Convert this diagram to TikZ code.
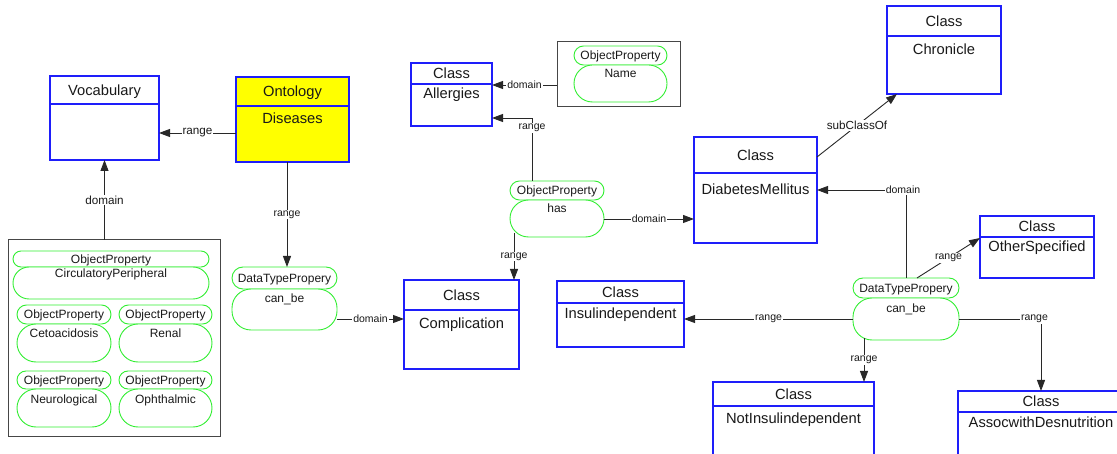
\documentclass[tikz,border=0pt]{standalone}
\usepackage{fontspec}
\setmainfont{Liberation Sans}
\usetikzlibrary{arrows.meta,fit,calc}

\definecolor{clsblue}{RGB}{30,30,250}
\definecolor{propgreen}{RGB}{50,238,50}
\definecolor{ink}{RGB}{25,25,25}
\definecolor{wire}{RGB}{40,40,40}
\definecolor{framegray}{RGB}{70,70,70}
\definecolor{ontyellow}{RGB}{255,255,0}

\newcommand\fsz[1]{\fontsize{#1}{#1}\selectfont}

\tikzset{
  every node/.style={text=ink, inner sep=0pt, outer sep=0pt},
  classbox/.style={draw=clsblue, line width=1.1pt, inner sep=0pt},
  classrule/.style={draw=clsblue, line width=1.1pt},
  classtitle/.style={font=\fsz{14.7}, text height=10.5pt, text depth=0pt, anchor=center},
  classname/.style={font=\fsz{14.7}, anchor=base},
  pillbox/.style={draw=propgreen, line width=0.9pt, fill=white, inner sep=0pt},
  pilltitle/.style={font=\fsz{12}, text height=8.6pt, text depth=0pt, anchor=center},
  pillname/.style={font=\fsz{12}, anchor=base},
  groupframe/.style={draw=framegray, line width=1pt, fill=white, inner sep=0pt},
  conn/.style={draw=wire, line width=0.9pt, -{Triangle[length=11pt,width=8pt]}},
  elab/.style={fill=white, inner sep=1pt, font=\fsz{10.5}},
  elabbig/.style={fill=white, inner sep=1pt, font=\fsz{11.7}},
}

% class box: [fill] name, top-left, bottom-right, header rule y, title, name text, name baseline
\newcommand\umlclass[8][white]{%
  \node[classbox, fill=#1, fit={(#3) (#4)}] (#2) {};
  \draw[classrule] (#2.west |- 0,#5) -- (#2.east |- 0,#5);
  \node[classtitle] (#2-title) at ($(#2.north)!0.5!(#2.north |- 0,#5)$) {#6};
  \node[classname] (#2-name) at (#2.north |- 0,#8) {#7};
}

% property pill: name, x1, x2, top y, header bottom y, bottom y, header, name text, name baseline
\newcommand\umlprop[9]{%
  \pgfmathsetmacro\pillhr{(#5-#4)/2}%
  \pgfmathsetmacro\pillbr{min(19,(#6-#5)/2)}%
  \node[pillbox, rounded corners=\pillhr pt, fit={(#2,#4) (#3,#5)}] (#1-head) {};
  \node[pillbox, rounded corners=\pillbr pt, fit={(#2,#5) (#3,#6)}] (#1) {};
  \node[pilltitle] (#1-headtext) at (#1-head.center) {#7};
  \node[pillname] (#1-text) at (#1.north |- 0,#9) {#8};
}

\begin{document}
\begin{tikzpicture}[x=1pt, y=-1pt]
\useasboundingbox (0,0) rectangle (1117,454);
\clip (0,0) rectangle (1117,454);

% ---- classes ----
\umlclass{voc}{50,76}{159,160}{104}{Vocabulary}{}{124}
\umlclass[ontyellow]{ont}{236,77}{349,162}{106}{Ontology}{Diseases}{124}
\umlclass{all}{411,63}{492,126}{84}{Class}{Allergies}{99}
\umlclass{chr}{887,6}{1001,94}{36}{Class}{Chronicle}{55}
\umlclass{dm}{694,137}{817,243}{173}{Class}{DiabetesMellitus}{195}
\umlclass{oth}{980,216}{1094,278}{237}{Class}{OtherSpecified}{252}
\umlclass{comp}{404,280}{519,369}{310}{Class}{Complication}{329}
\umlclass{ins}{557,281}{684,347}{303}{Class}{Insulindependent}{319}
\umlclass{notins}{713,382}{874,470}{406}{Class}{NotInsulindependent}{423}
\umlclass{assoc}{958,391}{1124,470}{412}{Class}{AssocwithDesnutrition}{427}

% ---- grouping frames ----
\node[groupframe, fit={(8,240) (220,436)}] (grp) {};
\node[groupframe, fit={(557,42) (680,107)}] (namebox) {};

% ---- properties ----
\umlprop{circ}{13}{209}{251}{267}{299}{ObjectProperty}{CirculatoryPeripheral}{278}
\umlprop{ceto}{17}{111}{305}{324}{362}{ObjectProperty}{Cetoacidosis}{338}
\umlprop{renal}{119}{212}{305}{324}{362}{ObjectProperty}{Renal}{338}
\umlprop{neuro}{17}{111}{371}{389}{427}{ObjectProperty}{Neurological}{403}
\umlprop{oph}{119}{212}{371}{389}{427}{ObjectProperty}{Ophthalmic}{403}
\umlprop{dtpL}{232}{337}{267}{289}{330}{DataTypePropery}{can\_be}{303}
\umlprop{name}{574}{667}{46}{65}{102}{ObjectProperty}{Name}{78}
\umlprop{has}{510}{604}{181}{200}{237}{ObjectProperty}{has}{213}
\umlprop{dtpR}{853}{959}{278}{298}{340}{DataTypePropery}{can\_be}{313}

% ---- connectors ----
\draw[conn] (ont.west |- 0,133) -- node[elabbig]{range} (voc.east |- 0,133);
\draw[conn] (voc.south |- grp.north) -- node[elabbig]{domain} (voc.south);
\draw[conn] (ont.south -| 287,0) -- node[elab]{range} (dtpL-head.north -| 287,0);
\draw[conn] (dtpL.east |- 0,319) -- node[elab]{domain} (comp.west |- 0,319);
\draw[conn] (namebox.west |- 0,85) -- node[elab]{domain} (all.east |- 0,85);
\draw[conn] (has-head.north -| 532,0) |- node[elab, pos=0.42]{range} (all.east |- 0,118);
\draw[conn] (has.east |- 0,219) -- node[elab]{domain} (dm.west |- 0,219);
\draw[conn] ($(has.south -| 514,0)+(0,-4)$) -- node[elab]{range} (comp.north -| 514,0);
\draw[conn] (dm.east |- 0,157) -- node[elabbig]{subClassOf} (chr.south -| 897,0);
\draw[conn] (dtpR-head.north -| 906,0) |- node[elab, pos=0.5, xshift=-3pt]{domain} (dm.east |- 0,190);
\draw[conn] (dtpR-head.north -| 917,0) -- node[elab]{range} (oth.west |- 0,238);
\draw[conn] (dtpR.west |- 0,319) -- node[elab]{range} (ins.east |- 0,319);
\draw[conn] (dtpR.east |- 0,319) -| node[elab, pos=0.46]{range} (assoc.north -| 1041,0);
\draw[conn] ($(dtpR.south -| 864,0)+(0,-2)$) -- node[elab]{range} (notins.north -| 864,0);
\end{tikzpicture}
\end{document}
